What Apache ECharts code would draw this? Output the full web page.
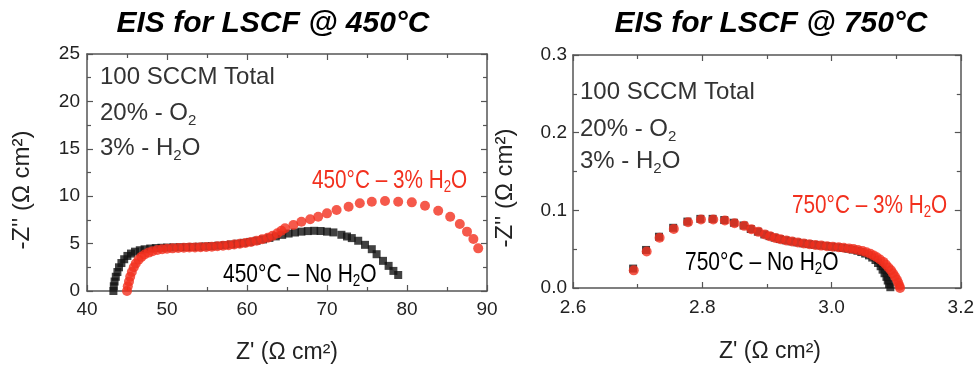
<!DOCTYPE html>
<html>
<head>
<meta charset="utf-8">
<script src="https://cdn.jsdelivr.net/npm/echarts@6/dist/echarts.min.js"></script>
<style>
html, body { margin: 0; padding: 0; background: #fff; }
#chart { width: 977px; height: 370px; }
</style>
</head>
<body>
<div id="chart"></div>
<script>
// Z' (Ω cm²), -Z'' (Ω cm²)
var dry450 = [
  [43.3, 0], [43.35, 0.5], [43.45, 1.0], [43.6, 1.5], [43.8, 2.0], [44.0, 2.5], [44.3, 2.95],
  [44.65, 3.35], [45.05, 3.7], [45.5, 3.95], [46.0, 4.15], [46.6, 4.3], [47.2, 4.4], [47.9, 4.48],
  [48.6, 4.53], [49.3, 4.56], [50.0, 4.58], [50.8, 4.6], [51.6, 4.62], [52.4, 4.63], [53.2, 4.65],
  [54.0, 4.67], [54.8, 4.7], [55.6, 4.73], [56.4, 4.78], [57.2, 4.84], [58.0, 4.91], [58.8, 4.99],
  [59.6, 5.08], [60.4, 5.18], [61.2, 5.3], [62.0, 5.44], [62.8, 5.6], [63.6, 5.76], [64.4, 5.92],
  [65.2, 6.06], [66.0, 6.17], [66.8, 6.26], [67.6, 6.32], [68.4, 6.35], [69.2, 6.33], [70.0, 6.26],
  [70.8, 6.18], [71.8, 5.93], [72.5, 5.75], [73.1, 5.58], [73.9, 5.3], [74.75, 4.87], [75.6, 4.41],
  [76.2, 3.88], [77.0, 3.18], [77.7, 2.65], [78.3, 2.12], [78.9, 1.69]
];
var wet450 = [
  [45.0, 0], [45.1, 0.5], [45.25, 1.0], [45.4, 1.5], [45.6, 2.0], [45.85, 2.5], [46.1, 2.9],
  [46.45, 3.3], [46.8, 3.6], [47.2, 3.85], [47.7, 4.05], [48.2, 4.2], [48.8, 4.32], [49.4, 4.4],
  [50.0, 4.46], [50.7, 4.5], [51.4, 4.53], [52.1, 4.56], [52.8, 4.58], [53.5, 4.6], [54.2, 4.62],
  [54.9, 4.65], [55.6, 4.68], [56.3, 4.72], [57.0, 4.77], [57.7, 4.83], [58.4, 4.9], [59.1, 4.98],
  [59.8, 5.07], [60.5, 5.17], [61.2, 5.3], [61.9, 5.45], [62.6, 5.62], [63.2, 5.82], [63.8, 6.08],
  [64.3, 6.35], [64.75, 6.61], [65.8, 6.96], [66.8, 7.31], [67.9, 7.56], [68.9, 7.84], [70.0, 8.19],
  [71.2, 8.54], [72.7, 8.89], [74.1, 9.25], [75.6, 9.42], [77.25, 9.49], [78.9, 9.42], [80.6, 9.35],
  [82.25, 9.0], [83.9, 8.47], [85.4, 7.84], [86.6, 7.07], [87.5, 6.26], [88.3, 5.49], [88.9, 4.5]
];
var dry750 = [
  [2.693, 0.025], [2.713, 0.049], [2.733, 0.066], [2.755, 0.0775], [2.777, 0.0855], [2.797, 0.089],
  [2.816, 0.089], [2.834, 0.0875], [2.849, 0.084], [2.864, 0.0805], [2.875, 0.076], [2.886, 0.0725],
  [2.896, 0.069], [2.904, 0.0668], [2.912, 0.0648], [2.920, 0.063], [2.929, 0.0614], [2.938, 0.06],
  [2.947, 0.0587], [2.956, 0.0575], [2.965, 0.0565], [2.974, 0.0556], [2.983, 0.0548], [2.992, 0.054],
  [3.001, 0.0532], [3.010, 0.0524], [3.018, 0.0515], [3.026, 0.0505], [3.033, 0.0494], [3.040, 0.048],
  [3.046, 0.0463], [3.052, 0.0443], [3.058, 0.042], [3.063, 0.0392], [3.068, 0.036], [3.072, 0.0322],
  [3.076, 0.028], [3.079, 0.0236], [3.082, 0.019], [3.085, 0.0143], [3.087, 0.0096], [3.089, 0.005],
  [3.091, 0.001]
];
var wet750 = [
  [2.694, 0.0227], [2.714, 0.047], [2.734, 0.0646], [2.756, 0.0761], [2.778, 0.0846], [2.798, 0.0881],
  [2.817, 0.0881], [2.835, 0.0868], [2.850, 0.0834], [2.865, 0.080], [2.876, 0.0757], [2.887, 0.0723],
  [2.897, 0.0688], [2.905, 0.0665], [2.913, 0.0645], [2.921, 0.0628], [2.930, 0.0612], [2.939, 0.0598],
  [2.948, 0.0585], [2.957, 0.0573], [2.966, 0.0563], [2.975, 0.0554], [2.984, 0.0546], [2.993, 0.0539],
  [3.002, 0.0532], [3.011, 0.0525], [3.019, 0.0518], [3.027, 0.051], [3.034, 0.0501], [3.041, 0.049],
  [3.048, 0.0477], [3.054, 0.0461], [3.060, 0.0442], [3.065, 0.042], [3.070, 0.0395], [3.075, 0.0367],
  [3.080, 0.0336], [3.084, 0.0302], [3.088, 0.0265], [3.092, 0.0228], [3.095, 0.019], [3.098, 0.015],
  [3.101, 0.011], [3.103, 0.007], [3.105, 0.003], [3.106, 0.0]
];

// axis ranges [min, max, step, decimals]
var x450 = [40, 90, 10, 0];
var y450 = [0, 25, 5, 0];
var x750 = [2.6, 3.2, 0.2, 1];
var y750 = [0, 0.3, 0.1, 1];

var titles = ['EIS for LSCF @ 450°C', 'EIS for LSCF @ 750°C'];

var SANS = '"Liberation Sans", Arial, sans-serif';
var RED = '#f2301e';
var LINE = '#555';

function axis(gi, r, pos, margin) {
  return {
    type: 'value', gridIndex: gi, position: pos,
    min: r[0], max: r[1], interval: r[2],
    axisLine: { show: true, onZero: false, lineStyle: { color: LINE, width: 1.5 } },
    axisTick: { show: true, inside: true, length: 6, lineStyle: { color: LINE, width: 1.2 } },
    minorTick: { show: true, splitNumber: 2, length: 4, lineStyle: { color: LINE, width: 1.2 } },
    splitLine: { show: false },
    axisLabel: {
      show: margin != null, margin: margin || 0, fontSize: 19, color: '#222', fontFamily: SANS,
      showMinLabel: true, showMaxLabel: true,
      formatter: function (v) { return (+v).toFixed(r[3]); }
    }
  };
}

function text(x, y, str, o) {
  o = o || {};
  return {
    type: 'text', x: x, y: y, rotation: o.rot || 0, scaleX: o.sx || 1, z: 100,
    style: {
      text: str, fill: o.color || '#333', fontSize: o.size || 24, lineHeight: o.lh || 30,
      fontFamily: SANS, fontWeight: o.weight || 'normal', fontStyle: o.style || 'normal',
      align: o.align || 'left', verticalAlign: 'middle',
      rich: { s: { fontSize: o.sub || 15, verticalAlign: 'bottom', lineHeight: o.lh || 30 } }
    }
  };
}

var chart = echarts.init(document.getElementById('chart'), null, { renderer: 'canvas' });

var option = {
  animation: false,
  backgroundColor: '#fff',
  grid: [
    { left: 87, top: 54, width: 400, height: 237 },
    { left: 573, top: 55, width: 393, height: 233 }
  ],
  xAxis: [
    axis(0, x450, 'bottom', 9),
    axis(0, x450, 'top'),
    axis(1, x750, 'bottom', 10),
    axis(1, x750, 'top')
  ],
  yAxis: [
    axis(0, y450, 'left', 7),
    axis(0, y450, 'right'),
    axis(1, y750, 'left', 6),
    axis(1, y750, 'right')
  ],
  series: [
    { type: 'scatter', xAxisIndex: 0, yAxisIndex: 0, data: dry450, symbol: 'rect', symbolSize: 8,
      itemStyle: { color: '#111' }, silent: true },
    { type: 'scatter', xAxisIndex: 0, yAxisIndex: 0, data: wet450, symbol: 'circle', symbolSize: 10,
      itemStyle: { color: RED }, silent: true },
    { type: 'scatter', xAxisIndex: 2, yAxisIndex: 2, data: dry750, symbol: 'rect', symbolSize: 8,
      itemStyle: { color: '#111' }, silent: true },
    { type: 'scatter', xAxisIndex: 2, yAxisIndex: 2, data: wet750, symbol: 'circle', symbolSize: 10,
      itemStyle: { color: RED }, silent: true }
  ],
  graphic: [
    // titles
    text(273, 24, titles[0], { color: '#000', size: 30, weight: 'bold', style: 'italic', align: 'center', lh: 36 }),
    text(771, 24, titles[1], { color: '#000', size: 30, weight: 'bold', style: 'italic', align: 'center', lh: 36 }),
    // axis names
    text(287, 353, "Z' (Ω cm²)", { color: '#222', size: 23, align: 'center' }),
    text(770, 352, "Z' (Ω cm²)", { color: '#222', size: 23, align: 'center' }),
    text(22, 190, "-Z'' (Ω cm²)", { color: '#222', size: 24, align: 'center', rot: Math.PI / 2 }),
    text(505, 188, "-Z'' (Ω cm²)", { color: '#222', size: 24, align: 'center', rot: Math.PI / 2 }),
    // conditions
    text(100, 77, '100 SCCM Total'),
    text(100, 113, '20% - O{s|2}'),
    text(100, 148, '3% - H{s|2}O'),
    text(580, 92, '100 SCCM Total'),
    text(580, 129, '20% - O{s|2}'),
    text(580, 161, '3% - H{s|2}O'),
    // curve labels
    text(312, 181, '450°C – 3% H{s|2}O', { color: RED, size: 25, sub: 16, sx: 0.83 }),
    text(223, 275, '450°C – No H{s|2}O', { color: '#000', size: 25, sub: 16, sx: 0.84 }),
    text(792, 206, '750°C – 3% H{s|2}O', { color: RED, size: 25, sub: 16, sx: 0.83 }),
    text(685, 263, '750°C – No H{s|2}O', { color: '#000', size: 25, sub: 16, sx: 0.84 })
  ]
};

chart.setOption(option);
</script>
</body>
</html>
